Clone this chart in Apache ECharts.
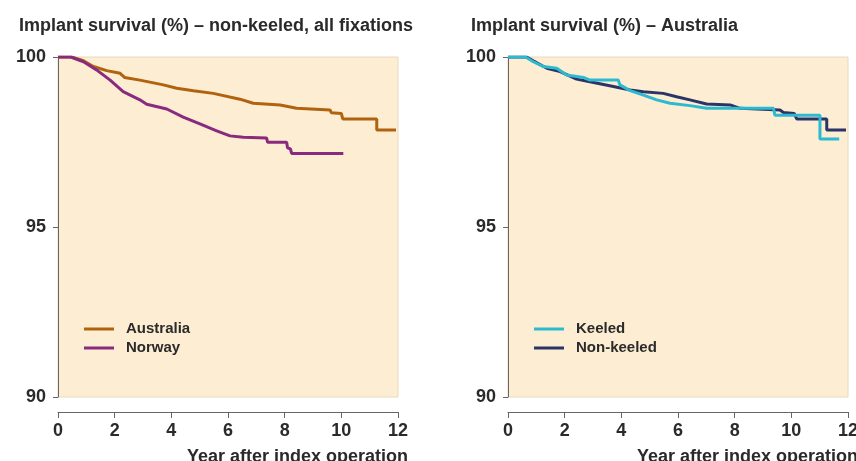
<!DOCTYPE html>
<html>
<head>
<meta charset="utf-8">
<script src="https://cdn.jsdelivr.net/npm/echarts@6/dist/echarts.min.js"></script>
<style>
  html, body { margin: 0; padding: 0; background: #fff; }
  #chart { width: 856px; height: 461px; }
</style>
</head>
<body>
<div id="chart"></div>
<script>
// Kaplan-Meier style curves, [year, survival %]
var australia = [[0, 100], [0.48, 100], [0.9, 99.89], [1.25, 99.72], [1.72, 99.6], [2.19, 99.52], [2.35, 99.4], [2.89, 99.32], [3.72, 99.18], [4.19, 99.08], [4.78, 99.01], [5.48, 98.93], [6.42, 98.76], [6.89, 98.64], [7.84, 98.59], [8.42, 98.49], [9.6, 98.44], [9.65, 98.36], [10.0, 98.34], [10.05, 98.18], [11.25, 98.18], [11.25, 97.85], [11.93, 97.85]];
var norway = [[0, 100], [0.45, 100], [0.9, 99.86], [1.36, 99.62], [1.84, 99.32], [2.3, 98.98], [2.89, 98.74], [3.13, 98.61], [3.84, 98.47], [4.42, 98.23], [5.01, 98.03], [5.6, 97.83], [6.07, 97.68], [6.54, 97.64], [7.36, 97.62], [7.4, 97.49], [8.07, 97.49], [8.1, 97.33], [8.2, 97.3], [8.25, 97.16], [10.07, 97.16]];
var keeled = [[0, 100], [0.62, 100], [0.89, 99.86], [1.25, 99.72], [1.72, 99.67], [2.07, 99.47], [2.66, 99.4], [2.89, 99.32], [3.89, 99.32], [3.95, 99.18], [4.31, 99.01], [4.78, 98.88], [5.25, 98.74], [5.72, 98.64], [6.42, 98.57], [7.01, 98.49], [9.37, 98.49], [9.42, 98.29], [11.01, 98.29], [11.01, 97.59], [11.69, 97.59]];
var nonKeeled = [[0, 100], [0.66, 100], [0.89, 99.89], [1.37, 99.67], [1.84, 99.57], [2.42, 99.35], [2.89, 99.27], [3.72, 99.13], [4.31, 99.03], [4.78, 98.98], [5.48, 98.93], [5.95, 98.83], [6.42, 98.74], [7.01, 98.62], [7.84, 98.59], [8.19, 98.49], [9.6, 98.44], [9.72, 98.37], [10.1, 98.34], [10.19, 98.18], [11.25, 98.18], [11.25, 97.85], [11.93, 97.85]];

var titles = ['Implant survival (%) \u2013 non-keeled, all fixations', 'Implant survival (%) \u2013 Australia'];
var xName = 'Year after index operation';

var font = 'Liberation Sans, Arial, sans-serif';
var txt = '#2a2a2a';
var axisCol = '#666';

var chart = echarts.init(document.getElementById('chart'));

function xAx(idx) {
    return {
        gridIndex: idx,
        type: 'value',
        min: 0, max: 12, interval: 2,
        offset: 15,
        name: xName,
        nameLocation: 'end',
        nameGap: 0,
        nameTextStyle: {
            fontFamily: font, fontSize: 18, fontWeight: 'bold', color: txt,
            align: 'right', verticalAlign: 'top',
            padding: [36, -10, 0, 0]
        },
        axisLine: { show: true, onZero: false, lineStyle: { color: axisCol, width: 1 } },
        axisTick: { show: true, length: 6, lineStyle: { color: axisCol } },
        axisLabel: { fontFamily: font, fontSize: 18, fontWeight: 'bold', color: txt, margin: 10 },
        splitLine: { show: false }
    };
}

function yAx(idx) {
    return {
        gridIndex: idx,
        type: 'value',
        min: 90, max: 100, interval: 5,
        axisLine: { show: true, lineStyle: { color: axisCol, width: 1 } },
        axisTick: { show: true, length: 5, lineStyle: { color: axisCol } },
        axisLabel: { fontFamily: font, fontSize: 18, fontWeight: 'bold', color: txt, margin: 12 },
        splitLine: { show: false }
    };
}

function ser(name, data, color, idx) {
    return {
        name: name,
        type: 'line',
        xAxisIndex: idx, yAxisIndex: idx,
        data: data,
        symbol: 'none',
        lineStyle: { color: color, width: 3 },
        itemStyle: { color: color },
        z: 3
    };
}

function leg(names, left) {
    return {
        data: names,
        orient: 'vertical', left: left, top: 315, itemGap: 1,
        icon: 'rect', itemWidth: 30, itemHeight: 3,
        textStyle: { fontFamily: font, fontSize: 15, fontWeight: 'bold', color: txt, lineHeight: 18, padding: [0, 0, 0, 7] }
    };
}

var option = {
    animation: false,
    title: [
        { text: titles[0], left: 14, top: 12, textStyle: { fontFamily: font, fontSize: 18, fontWeight: 'bold', color: txt } },
        { text: titles[1], left: 466, top: 12, textStyle: { fontFamily: font, fontSize: 18, fontWeight: 'bold', color: txt } }
    ],
    grid: [
        { left: 58, top: 57, width: 340, height: 340, outerBoundsMode: 'none', containLabel: false, show: true, backgroundColor: '#fdedd2', borderColor: '#e8d8bc', borderWidth: 1 },
        { left: 508, top: 57, width: 340, height: 340, outerBoundsMode: 'none', containLabel: false, show: true, backgroundColor: '#fdedd2', borderColor: '#e8d8bc', borderWidth: 1 }
    ],
    legend: [leg(['Australia', 'Norway'], 79), leg(['Keeled', 'Non-keeled'], 529)],
    xAxis: [xAx(0), xAx(1)],
    yAxis: [yAx(0), yAx(1)],
    series: [
        ser('Australia', australia, '#b0620f', 0),
        ser('Norway', norway, '#8a2a7e', 0),
        ser('Non-keeled', nonKeeled, '#2a3466', 1),
        ser('Keeled', keeled, '#2bbad0', 1)
    ]
};

chart.setOption(option);
</script>
</body>
</html>
